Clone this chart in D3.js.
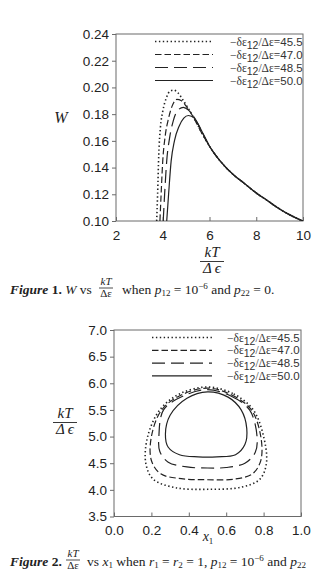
<!DOCTYPE html>
<html><head><meta charset="utf-8">
<script src="https://cdn.jsdelivr.net/npm/d3@7"></script>
<style>body{margin:0;background:#fff}svg{display:block}</style>
</head><body>
<svg id="c" width="313" height="572"></svg>
<script>
// ---------- data ----------
const legendValues = ["45.5", "47.0", "48.5", "50.0"];
const fig1XTicks = [2, 4, 6, 8, 10];
const fig1YTicks = [0.10, 0.12, 0.14, 0.16, 0.18, 0.20, 0.22, 0.24];
const fig2XTicks = [0.0, 0.2, 0.4, 0.6, 0.8, 1.0];
const fig2YTicks = [3.5, 4.0, 4.5, 5.0, 5.5, 6.0, 6.5, 7.0];

// Figure 1: W vs kT/Δε
const f1_455_x = [3.74, 3.78, 3.83, 3.90, 4.00, 4.15, 4.30, 4.47, 4.65, 4.85, 5.10, 5.40, 5.70, 6.00, 6.5, 7.0, 7.5, 8.0, 8.5, 9.0, 9.5, 10.0];
const f1_455_w = [0.100, 0.120, 0.150, 0.170, 0.182, 0.192, 0.197, 0.198, 0.196, 0.191, 0.184, 0.175, 0.165, 0.156, 0.144, 0.135, 0.128, 0.121, 0.115, 0.109, 0.104, 0.100];
const f1_470_x = [3.88, 3.93, 4.00, 4.10, 4.25, 4.40, 4.60, 4.80, 5.00, 5.30, 5.60, 6.00, 6.5, 7.0, 7.5, 8.0, 8.5, 9.0, 9.5, 10.0];
const f1_470_w = [0.100, 0.120, 0.145, 0.163, 0.177, 0.186, 0.191, 0.190, 0.186, 0.178, 0.168, 0.156, 0.144, 0.135, 0.128, 0.121, 0.115, 0.109, 0.104, 0.100];
const f1_485_x = [4.02, 4.08, 4.17, 4.30, 4.45, 4.65, 4.88, 5.10, 5.40, 5.70, 6.00, 6.5, 7.0, 7.5, 8.0, 8.5, 9.0, 9.5, 10.0];
const f1_485_w = [0.100, 0.120, 0.145, 0.163, 0.175, 0.183, 0.185, 0.183, 0.176, 0.166, 0.156, 0.144, 0.135, 0.128, 0.121, 0.115, 0.109, 0.104, 0.100];
const f1_500_x = [4.17, 4.25, 4.36, 4.50, 4.70, 4.90, 5.10, 5.35, 5.65, 6.00, 6.5, 7.0, 7.5, 8.0, 8.5, 9.0, 9.5, 10.0];
const f1_500_w = [0.100, 0.120, 0.145, 0.160, 0.171, 0.177, 0.179, 0.177, 0.168, 0.156, 0.144, 0.135, 0.128, 0.121, 0.115, 0.109, 0.104, 0.100];

// Figure 2: kT/Δε vs x1 (closed loops)
const f2_455_x = [0.50, 0.64, 0.745, 0.80, 0.815, 0.78, 0.68, 0.50, 0.33, 0.21, 0.17, 0.18, 0.245, 0.35];
const f2_455_t = [5.93, 5.80, 5.50, 5.00, 4.50, 4.20, 4.05, 4.01, 4.04, 4.20, 4.50, 5.00, 5.50, 5.80];
const f2_470_x = [0.50, 0.63, 0.735, 0.785, 0.785, 0.74, 0.64, 0.50, 0.36, 0.25, 0.20, 0.20, 0.255, 0.36];
const f2_470_t = [5.91, 5.78, 5.50, 5.00, 4.55, 4.30, 4.20, 4.19, 4.21, 4.30, 4.55, 5.00, 5.50, 5.78];
const f2_485_x = [0.50, 0.625, 0.725, 0.765, 0.755, 0.70, 0.60, 0.50, 0.39, 0.29, 0.245, 0.24, 0.265, 0.37];
const f2_485_t = [5.88, 5.76, 5.50, 5.00, 4.70, 4.50, 4.42, 4.41, 4.43, 4.52, 4.72, 5.00, 5.50, 5.76];
const f2_500_x = [0.50, 0.61, 0.68, 0.71, 0.70, 0.65, 0.55, 0.45, 0.35, 0.29, 0.275, 0.30, 0.39];
const f2_500_t = [5.84, 5.74, 5.50, 5.15, 4.85, 4.66, 4.62, 4.62, 4.66, 4.80, 5.05, 5.40, 5.72];

const dashPatterns = ["1.4,2.5", "6.5,3", "13,6", null];

// ---------- drawing ----------
const svg = d3.select("#c");
const ink = "#222";
const frameColor = "#6a6a6a";
const sans = "'Liberation Sans', Arial, sans-serif";
const serif = "'Liberation Serif', 'Times New Roman', serif";

function panel(cfg) {
  const x = d3.scaleLinear().domain(cfg.xDomain).range([cfg.left, cfg.right]);
  const y = d3.scaleLinear().domain(cfg.yDomain).range([cfg.bottom, cfg.top]);
  const g = svg.append("g");
  const clipId = "clip" + cfg.id;
  svg.append("clipPath").attr("id", clipId).append("rect")
    .attr("x", cfg.left).attr("y", cfg.top)
    .attr("width", cfg.right - cfg.left).attr("height", cfg.bottom - cfg.top);

  const xa = g.append("g").attr("transform", `translate(0,${cfg.bottom})`)
    .call(d3.axisBottom(x).tickValues(cfg.xTicks).tickSize(-4).tickPadding(9).tickFormat(cfg.xFmt));
  const ya = g.append("g").attr("transform", `translate(${cfg.left},0)`)
    .call(d3.axisLeft(y).tickValues(cfg.yTicks).tickSize(4).tickPadding(3).tickFormat(cfg.yFmt));
  [xa, ya].forEach(a => {
    a.select(".domain").remove();
    a.selectAll("line").attr("stroke", frameColor);
    a.selectAll("text").attr("font-family", sans)
      .attr("font-size", 13.5).attr("fill", ink);
  });
  g.append("rect").attr("x", cfg.left).attr("y", cfg.top)
    .attr("width", cfg.right - cfg.left).attr("height", cfg.bottom - cfg.top)
    .attr("fill", "none").attr("stroke", frameColor).attr("stroke-width", 1);

  const plot = g.append("g").attr("clip-path", `url(#${clipId})`);
  cfg.series.forEach((s, i) => {
    const pts = s.xs.map((v, k) => [x(v), y(s.ys[k])]);
    const line = d3.line().curve(cfg.closed ? d3.curveCatmullRomClosed.alpha(0.5) : d3.curveMonotoneX);
    plot.append("path").attr("d", line(pts))
      .attr("fill", "none").attr("stroke", ink)
      .attr("stroke-width", i === 0 ? 1.6 : 1.2)
      .attr("stroke-dasharray", dashPatterns[i]);
  });

  legendValues.forEach((v, i) => {
    const yy = cfg.legY + i * cfg.legStep;
    g.append("line").attr("x1", cfg.legX1).attr("x2", cfg.legX2)
      .attr("y1", yy).attr("y2", yy)
      .attr("stroke", ink).attr("stroke-width", i === 0 ? 1.6 : 1.2)
      .attr("stroke-dasharray", dashPatterns[i]);
    const t = g.append("text").attr("x", cfg.legTx).attr("y", yy + 4)
      .attr("font-size", 11.5).attr("fill", "#333")
      .attr("font-family", serif);
    t.append("tspan").text("\u2212\u03b4\u03b5");
    t.append("tspan").attr("font-family", sans)
      .attr("font-size", 10.5).attr("dy", 3).text("12");
    t.append("tspan").attr("dy", -3).text("/\u0394\u03b5=");
    t.append("tspan").attr("font-family", sans).text(v);
  });
  return {x, y, g};
}

panel({
  id: 1, left: 116, right: 303, top: 34, bottom: 221,
  xDomain: [2, 10], yDomain: [0.10, 0.24],
  xTicks: fig1XTicks, yTicks: fig1YTicks,
  xFmt: d3.format("d"), yFmt: d3.format(".2f"),
  closed: false,
  series: [
    {xs: f1_455_x, ys: f1_455_w}, {xs: f1_470_x, ys: f1_470_w},
    {xs: f1_485_x, ys: f1_485_w}, {xs: f1_500_x, ys: f1_500_w}
  ],
  legX1: 155, legX2: 213, legTx: 230, legY: 41.5, legStep: 13
});

panel({
  id: 2, left: 114, right: 301, top: 330, bottom: 516.5,
  xDomain: [0, 1], yDomain: [3.5, 7.0],
  xTicks: fig2XTicks, yTicks: fig2YTicks,
  xFmt: d3.format(".1f"), yFmt: d3.format(".1f"),
  closed: true,
  series: [
    {xs: f2_455_x, ys: f2_455_t}, {xs: f2_470_x, ys: f2_470_t},
    {xs: f2_485_x, ys: f2_485_t}, {xs: f2_500_x, ys: f2_500_t}
  ],
  legX1: 152, legX2: 212, legTx: 227, legY: 337.5, legStep: 12.8
});

// ---------- axis titles ----------
function frac(cx, yTop, top, bottom, size, lineW) {
  svg.append("text").attr("x", cx).attr("y", yTop).attr("text-anchor", "middle")
    .attr("font-family", serif).attr("font-style", "italic").attr("font-size", size)
    .attr("fill", ink).text(top);
  svg.append("line").attr("x1", cx - lineW / 2).attr("x2", cx + lineW / 2)
    .attr("y1", yTop + size * 0.3).attr("y2", yTop + size * 0.3)
    .attr("stroke", ink).attr("stroke-width", 0.9);
  svg.append("text").attr("x", cx).attr("y", yTop + size * 1.08).attr("text-anchor", "middle")
    .attr("font-family", serif).attr("font-style", "italic").attr("font-size", size)
    .attr("fill", ink).text(bottom);
}
frac(212, 257, "kT", "\u0394\u2009\u03f5", 15, 24);
svg.append("text").attr("x", 61).attr("y", 123).attr("text-anchor", "middle")
  .attr("font-family", serif).attr("font-style", "italic").attr("font-size", 16)
  .attr("fill", ink).text("W");
frac(65, 418, "kT", "\u0394\u2009\u03f5", 15, 24);
const x1t = svg.append("text").attr("x", 208).attr("y", 541).attr("text-anchor", "middle")
  .attr("font-family", serif).attr("font-style", "italic").attr("font-size", 14).attr("fill", ink);
x1t.append("tspan").text("x");
x1t.append("tspan").attr("font-style", "normal").attr("font-size", 9).attr("dy", 3).text("1");

// ---------- captions ----------
function caption(y, parts) {
  const t = svg.append("text").attr("x", 10).attr("y", y)
    .attr("font-family", serif).attr("font-size", 13.5).attr("fill", ink);
  parts.forEach(p => {
    const s = t.append("tspan").text(p.t);
    if (p.b) s.attr("font-weight", "bold");
    if (p.i) s.attr("font-style", "italic");
    if (p.x != null) s.attr("x", p.x);
    if (p.dy) s.attr("dy", p.dy);
    if (p.fs) s.attr("font-size", p.fs);
  });
}
function smallFrac(cx, yTop) {
  svg.append("text").attr("x", cx).attr("y", yTop).attr("text-anchor", "middle")
    .attr("font-family", serif).attr("font-style", "italic").attr("font-size", 11).attr("fill", ink).text("kT");
  svg.append("line").attr("x1", cx - 7).attr("x2", cx + 7).attr("y1", yTop + 3).attr("y2", yTop + 3)
    .attr("stroke", ink).attr("stroke-width", 0.8);
  svg.append("text").attr("x", cx).attr("y", yTop + 12).attr("text-anchor", "middle")
    .attr("font-family", serif).attr("font-size", 11).attr("fill", ink).text("\u0394\u03b5");
}
caption(294, [
  {t: "Figure", b: 1, i: 1}, {t: " 1.", b: 1}, {t: " W", i: 1}, {t: " vs"},
  {t: "when ", x: 122}, {t: "p", i: 1}, {t: "12", fs: 9, dy: 2}, {t: " = 10", dy: -2},
  {t: "\u22126", fs: 9, dy: -5}, {t: " and ", dy: 5}, {t: "p", i: 1}, {t: "22", fs: 9, dy: 2},
  {t: " = 0.", dy: -2}
]);
smallFrac(106, 285);
caption(566, [
  {t: "Figure", b: 1, i: 1}, {t: " 2.", b: 1},
  {t: "vs ", x: 87}, {t: "x", i: 1}, {t: "1", fs: 9, dy: 2}, {t: " when ", dy: -2},
  {t: "r", i: 1}, {t: "1", fs: 9, dy: 2}, {t: " = ", dy: -2}, {t: "r", i: 1}, {t: "2", fs: 9, dy: 2},
  {t: " = 1, ", dy: -2}, {t: "p", i: 1}, {t: "12", fs: 9, dy: 2}, {t: " = 10", dy: -2},
  {t: "\u22126", fs: 9, dy: -5}, {t: " and ", dy: 5}, {t: "p", i: 1}, {t: "22", fs: 9, dy: 2}
]);
smallFrac(73, 557);
</script>
</body></html>
